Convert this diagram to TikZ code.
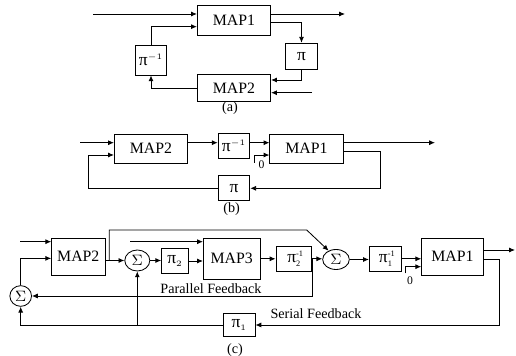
\documentclass[tikz,border=0pt]{standalone}
\usepackage{fontspec}
\setmainfont{Liberation Serif}
\usetikzlibrary{arrows.meta,shapes.geometric}

\newcommand{\pisub}[2]{π\rlap{\raisebox{3.6pt}{\fontsize{5}{5}\selectfont #2}}\raisebox{-2pt}{\fontsize{5}{5}\selectfont #1}}

\begin{document}
\begin{tikzpicture}[x=0.6pt,y=-0.6pt,line width=0.5pt,
	arr/.style={-{Latex[length=3.5pt,width=3pt]}},
	mapbox/.style={draw,minimum width=44pt,minimum height=17pt,inner sep=0pt,font=\fontsize{9.5}{11}\selectfont},
	pibox/.style={draw,minimum width=19pt,minimum height=17pt,inner sep=0pt,font=\fontsize{10.5}{12}\selectfont},
	sumnode/.style={draw,ellipse,minimum width=14pt,minimum height=12pt,inner sep=0pt,font=\fontsize{9}{11}\selectfont},
	lbl/.style={font=\fontsize{8.5}{10}\selectfont}]
					\useasboundingbox (0,0) rectangle (516,356);
					
					% Draw the loop of (a)
					\node[mapbox,minimum height=18pt] (map1a) at (234,20) {MAP1};
					\node[mapbox,minimum height=16pt] (map2a) at (234,88) {MAP2};
					\node[pibox,minimum height=18pt] (piinva) at (151,60) {$\mbox{π}^{\scriptscriptstyle -1}$};
					\node[pibox,minimum height=16pt] (pia) at (301.5,56.5) {π};
					\coordinate (ina) at (93,14);
					\coordinate (outa) at (345,14);
					\coordinate (in2a) at (312,92.7);
					\draw[arr] (ina) -- (ina -| map1a.west);
					\draw[arr] (ina -| map1a.east) -- (outa);
					\draw[arr] (piinva.north) |- ([yshift=-4pt]map1a.west);
					\draw[arr] ([yshift=-1.6pt]map1a.east) -| (pia.north);
					\draw[arr] (pia.south) |- ([yshift=4.8pt]map2a.east);
					\draw[arr] (in2a) -- (in2a -| map2a.east);
					\draw[arr] (map2a.west) -| (piinva.south);
					\node[lbl] (capa) at (230,108.5) {(a)};
					
					% Draw the chain of (b)
					\node[mapbox,minimum height=17.6pt] (map2b) at (151,148.7) {MAP2};
					\node[pibox,minimum height=14.6pt] (piinvb) at (234,146) {$\mbox{π}^{\scriptscriptstyle -1}$};
					\node[mapbox,minimum height=17.6pt] (map1b) at (306.5,148.7) {MAP1};
					\node[pibox,minimum height=15pt] (pib) at (234,188.3) {π};
					\coordinate (inb) at (80,142.7);
					\coordinate (outb) at (435,142.7);
					\coordinate (zb) at (254.3,162.7);
					\coordinate (fbb) at (380,188.3);
					\coordinate (fb2b) at (88.3,155);
					\draw[arr] (inb) -- (inb -| map2b.west);
					\draw[arr] (inb -| map2b.east) -- (inb -| piinvb.west);
					\draw[arr] (inb -| piinvb.east) -- (inb -| map1b.west);
					\draw[arr] (inb -| map1b.east) -- (outb);
					\draw[arr] (zb) |- ([yshift=-3.8pt]map1b.west);
					\node[font=\fontsize{7}{8}\selectfont] (zerob) at (261.5,165) {0};
					\draw[arr] ([yshift=-1.8pt]map1b.east) -| (fbb) -- (fbb -| pib.east);
					\draw[arr] (pib.west) -| (fb2b) -- (fb2b -| map2b.west);
					\node[lbl] (capb) at (231.7,209.3) {(b)};
					
					% Draw the blocks of (c)
					\node[mapbox,minimum width=32pt,minimum height=22pt] (map2c) at (78.3,256.7) {MAP2};
					\node[sumnode,minimum width=13pt,minimum height=12.4pt] (sig1) at (20.7,296) {$\Sigma$};
					\node[sumnode,minimum width=15pt,minimum height=12.6pt] (sig2) at (137.3,260.5) {$\Sigma$};
					\node[pibox,minimum width=16pt,minimum height=15pt] (pi2) at (175,261) {$\mbox{π}_{\scriptscriptstyle 2}$};
					\node[mapbox,minimum width=34pt,minimum height=24.6pt] (map3) at (231.7,258.8) {MAP3};
					\node[pibox,minimum width=21.4pt,minimum height=15.4pt] (piinv2) at (293.8,258.8) {\pisub{2}{-1}};
					\node[sumnode,minimum width=16pt,minimum height=12pt] (sig3) at (336,259.5) {$\Sigma$};
					\node[pibox,minimum width=19.4pt,minimum height=15.4pt] (piinv1) at (385.5,258.8) {\pisub{1}{-1}};
					\node[mapbox,minimum width=37pt,minimum height=22pt] (map1c) at (452.5,256.7) {MAP1};
					\node[pibox,minimum width=19pt,minimum height=14pt] (pi1) at (239.2,325) {$\mbox{π}_{\scriptscriptstyle 1}$};
					\coordinate (inc) at (20,241.7);
					\coordinate (in3c) at (130,241.7);
					\coordinate (brA) at (109.3,230);
					\coordinate (brB) at (306.7,230);
					\coordinate (pfb) at (312.5,296);
					\coordinate (zc) at (405,273.3);
					\coordinate (outc) at (515,250);
					\coordinate (fbc) at (499.3,325);
					
					% Forward path of (c)
					\draw[arr] (inc) -- (inc -| map2c.west);
					\draw[arr] (sig1.north) |- ([yshift=-1pt]map2c.west);
					\draw[arr] (map2c.east |- sig2.west) -- (sig2.west);
					\draw[arr] (brA |- sig2.west) -- (brA) -- (brB) -- (sig3.130);
					\draw[arr] (sig2.east) -- (sig2.east -| pi2.west);
					\draw[arr] (in3c) -- (in3c -| map3.west);
					\draw[arr] (pi2.east) -- (pi2.east -| map3.west);
					\draw[arr] (map3.east |- piinv2.west) -- (piinv2.west);
					\draw[arr] (piinv2.east) -- (piinv2.east -| sig3.west);
					\draw[arr] (sig3.east) -- (sig3.east -| piinv1.west);
					\draw[arr] (piinv1.east) -- (piinv1.east -| map1c.west);
					\draw[arr] (zc) |- ([yshift=-6pt]map1c.west);
					\node[font=\fontsize{7}{8}\selectfont] (zeroc) at (410,281) {0};
					\draw[arr] (outc -| map1c.east) -- (outc);
					
					% Feedback paths of (c)
					\draw[arr] (pfb |- piinv2.east) |- (sig1.east);
					\draw[arr] ([yshift=-1.4pt]map1c.east) -| (fbc) -- (fbc -| pi1.east);
					\draw[arr] (pi1.west) -| (sig1.south);
					\draw[arr] (sig2.south |- pi1.west) -- (sig2.south);
					\node[lbl] (lblpar) at (211,289) {Parallel Feedback};
					\node[lbl] (lblser) at (316,314) {Serial Feedback};
					\node[lbl] (capc) at (235,350) {(c)};
				\end{tikzpicture}
\end{document}
